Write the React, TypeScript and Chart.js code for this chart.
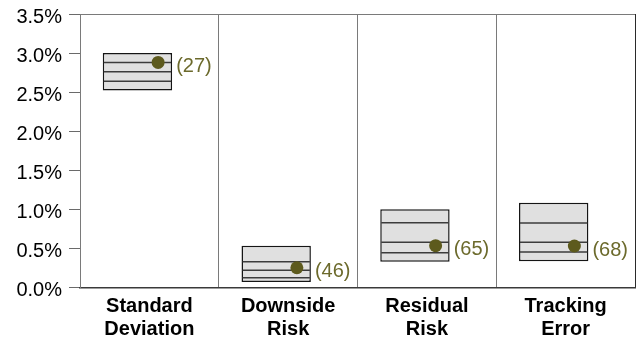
import React, { useEffect, useRef } from "react";
import { Chart, registerables } from "chart.js";

Chart.register(...registerables);

// Risk measures along the x axis
const categories: string[][] = [
  ["Standard", "Deviation"],
  ["Downside", "Risk"],
  ["Residual", "Risk"],
  ["Tracking", "Error"],
];

// Peer-group range (percent): box spans 5th to 95th percentile
const rangeLow: number[] = [2.52, 0.07, 0.33, 0.335];
const rangeHigh: number[] = [3.0, 0.535, 1.0, 1.085];
// Quartile lines inside each box
const quartile75: number[] = [2.88, 0.33, 0.83, 0.825];
const quartileMedian: number[] = [2.76, 0.22, 0.578, 0.578];
const quartile25: number[] = [2.64, 0.125, 0.445, 0.454];

// Portfolio value and its percentile rank
const portfolioValue: number[] = [2.88, 0.253, 0.535, 0.531];
const portfolioRank: number[] = [27, 46, 65, 68];

// Y axis ticks
const yMin = 0;
const yMax = 3.5;
const yStep = 0.5;

const FONT = "'Liberation Sans', Arial, Helvetica, sans-serif";
const BOX_SHIFT = -0.086;
const DOT_SHIFT = 0.063;
const DOT_COLOR = "#5d5a1d";
const LABEL_COLOR = "#6c6a2c";

// Scales should not reserve extra room around the plot area
const noPadding = (s: any) => {
  s.paddingLeft = 0;
  s.paddingRight = 0;
  s.paddingTop = 0;
  s.paddingBottom = 0;
};

const boxDetailPlugin = {
  id: "boxDetail",
  afterDatasetDraw(chart: any, args: any) {
    if (args.index !== 0) return;
    const { ctx } = chart;
    const yScale = chart.scales.y;
    const meta = chart.getDatasetMeta(0);
    ctx.save();
    ctx.strokeStyle = "#3c3c3c";
    ctx.lineWidth = 1.5;
    meta.data.forEach((bar: any, i: number) => {
      const left = bar.x - bar.width / 2;
      const right = bar.x + bar.width / 2;
      [quartile75[i], quartileMedian[i], quartile25[i]].forEach((v) => {
        const y = yScale.getPixelForValue(v);
        ctx.beginPath();
        ctx.moveTo(left + 1, y);
        ctx.lineTo(right - 1, y);
        ctx.stroke();
      });
    });
    ctx.restore();
  },
  afterDatasetsDraw(chart: any) {
    const { ctx } = chart;
    const boxes = chart.getDatasetMeta(0).data;
    const dots = chart.getDatasetMeta(1).data;
    ctx.save();
    ctx.font = `20px ${FONT}`;
    ctx.fillStyle = LABEL_COLOR;
    ctx.textAlign = "left";
    ctx.textBaseline = "middle";
    dots.forEach((pt: any, i: number) => {
      const bar = boxes[i];
      const x = bar.x + bar.width / 2 + 4;
      ctx.fillText(`(${portfolioRank[i]})`, x, pt.y + 4);
    });
    ctx.restore();
  },
};

export default function App() {
  const canvasRef = useRef<HTMLCanvasElement | null>(null);

  useEffect(() => {
    if (!canvasRef.current) return;
    const chart = new Chart(canvasRef.current, {
      type: "bar",
      data: {
        labels: categories as any,
        datasets: [
          {
            type: "bar",
            xAxisID: "xv",
            order: 2,
            data: categories.map((_, i) => ({
              x: i + BOX_SHIFT,
              y: [rangeLow[i], rangeHigh[i]],
            })) as any,
            backgroundColor: "#e0e0e0",
            borderColor: "#151515",
            borderWidth: 1.5,
            borderSkipped: false,
            barPercentage: 0.5,
            categoryPercentage: 1,
          },
          {
            type: "scatter",
            xAxisID: "xv",
            order: 1,
            data: categories.map((_, i) => ({
              x: i + DOT_SHIFT,
              y: portfolioValue[i],
            })) as any,
            backgroundColor: DOT_COLOR,
            borderWidth: 0,
            pointRadius: 6.5,
          } as any,
        ],
      },
      options: {
        animation: false,
        responsive: false,
        devicePixelRatio: 1,
        layout: { autoPadding: false, padding: { top: 14, right: 1, left: 0, bottom: 0 } },
        plugins: {
          legend: { display: false },
          tooltip: { enabled: false },
        },
        scales: {
          xv: {
            type: "linear",
            display: false,
            offset: false,
            grid: { offset: false },
            ticks: { display: false },
            min: -0.5,
            max: 3.5,
            // one tick per category so bar widths follow the category spacing
            afterBuildTicks: (s: any) => {
              s.ticks = categories.map((_, i) => ({ value: i }));
            },
            afterFit: noPadding,
          },
          x: {
            type: "category",
            offset: true,
            grid: {
              offset: true,
              drawTicks: false,
              color: (c: any) => (c.type === "tick" ? "#7a7a7a" : "#2a2a2a"),
              lineWidth: 1,
            },
            border: { display: true, color: "#3a3a3a", width: 1.5 },
            ticks: {
              color: "#000",
              padding: 7,
              maxRotation: 0,
              font: { family: FONT, size: 20, weight: "bold", lineHeight: 1.17 },
            },
            afterFit: (s: any) => {
              s.height = 53.5;
              noPadding(s);
            },
          },
          y: {
            min: yMin,
            max: yMax,
            grid: {
              color: (c: any) =>
                c.tick && Math.abs(c.tick.value - yMax) < 1e-9 ? "#7a7a7a" : "rgba(0,0,0,0)",
              tickColor: "#6a6a6a",
              tickLength: 11,
              lineWidth: 1,
            },
            border: { display: true, color: "#7a7a7a", width: 1 },
            ticks: {
              stepSize: yStep,
              padding: 7,
              labelOffset: 3,
              color: "#000",
              font: { family: FONT, size: 20 },
              callback: (v: any) => `${Number(v).toFixed(1)}%`,
            },
            afterFit: (s: any) => {
              s.width = 80;
              noPadding(s);
            },
          },
        },
      },
      plugins: [boxDetailPlugin],
    });
    return () => chart.destroy();
  }, []);

  return (
    <div
      style={{
        position: "absolute",
        left: 0,
        top: 0,
        width: 636,
        height: 341,
        background: "#fff",
      }}
    >
      <canvas ref={canvasRef} width={636} height={341} />
    </div>
  );
}
